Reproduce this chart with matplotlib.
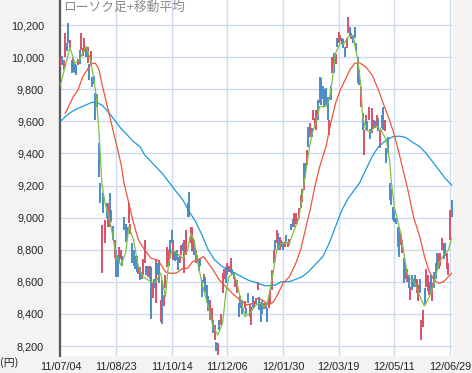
import numpy as np
import matplotlib
matplotlib.use("Agg")
import matplotlib.pyplot as plt
from matplotlib.ticker import FuncFormatter

# daily candles (trading day index 0..246), body only
opens = [9940, 10010, 9920, 10000, 10090, 10212, 10057, 9982, 9907, 9960,
         9950, 9950, 10045, 10045, 10010, 10030, 10060, 9963, 9960, 9960,
         9878, 9880, 9776, 9770, 9463, 9214, 8655, 9152, 8840, 9090,
         8943, 9152, 8970, 8950, 8750, 8798, 8770, 8720, 8740, 8760,
         9006, 8960, 8880, 8965, 8900, 8840, 8800, 8760, 8760, 8650,
         8690, 8620, 8640, 8715, 8700, 8630, 8620, 8690, 8500, 8620,
         8468, 8720, 8736, 8350, 8610, 8450, 8560, 8693, 8700, 8861,
         8923, 8736, 8790, 8800, 8757, 8720, 8770, 8840, 8653, 8770,
         9090, 9160, 8840, 8790, 8861, 8720, 8770, 8736, 8740, 8611,
         8590, 8630, 8580, 8510, 8362, 8362, 8362, 8240, 8225, 8144,
         8360, 8330, 8530, 8620, 8690, 8640, 8660, 8653, 8680, 8660,
         8570, 8530, 8466, 8510, 8490, 8420, 8440, 8440, 8530, 8380,
         8330, 8510, 8450, 8500, 8550, 8507, 8466, 8480, 8430, 8470,
         8435, 8440, 8470, 8550, 8715, 8860, 8840, 8902, 8800, 8820,
         8850, 8820, 8890, 8820, 8830, 8960, 8990, 8944, 8960, 8960,
         9000, 9060, 9100, 9172, 9340, 9330, 9563, 9505, 9560, 9608,
         9570, 9546, 9733, 9878, 9870, 9820, 9800, 9810, 9750, 9515,
         9820, 9900, 10025, 9960, 10118, 10088, 10100, 10120, 10110, 10065,
         10060, 10150, 10190, 10110, 10140, 10190, 10090, 10000, 9920, 9690,
         9650, 9390, 9580, 9600, 9608, 9550, 9525, 9610, 9600, 9570,
         9620, 9432, 9640, 9690, 9540, 9432, 9500, 9214, 9180, 9066,
         9040, 9000, 8944, 8944, 8830, 8780, 8747, 8720, 8600, 8640,
         8487, 8640, 8620, 8640, 8530, 8480, 8620, 8238, 8320, 8560,
         8570, 8540, 8520, 8640, 8480, 8660, 8720, 8778, 8680, 8700,
         8798, 8840, 8760, 8680, 8640, 8860, 9110]
closes = [10003, 9950, 9980, 10150, 10040, 10088, 10106, 9900, 9995, 9900,
          9890, 9990, 9960, 10150, 10060, 10120, 10000, 10065, 9858, 10040,
          9816, 9830, 9608, 9690, 9253, 9091, 8954, 9027, 8985, 9000,
          9091, 8943, 9050, 8860, 8861, 8630, 8630, 8820, 8800, 8700,
          8923, 8850, 8940, 9090, 8960, 8715, 8700, 8680, 8660, 8700,
          8612, 8660, 8740, 8860, 8640, 8700, 8700, 8370, 8590, 8560,
          8736, 8640, 8590, 8490, 8340, 8520, 8640, 8818, 8800, 8750,
          8840, 8861, 8730, 8736, 8674, 8760, 8830, 8790, 8860, 8923,
          9006, 9006, 8943, 8943, 8770, 8800, 8740, 8670, 8700, 8507,
          8650, 8530, 8470, 8420, 8487, 8440, 8280, 8330, 8170, 8218,
          8300, 8400, 8653, 8680, 8590, 8720, 8700, 8750, 8640, 8620,
          8620, 8610, 8383, 8440, 8400, 8440, 8480, 8400, 8470, 8460,
          8445, 8440, 8480, 8460, 8600, 8425, 8350, 8400, 8470, 8430,
          8350, 8500, 8549, 8674, 8798, 8800, 8923, 8798, 8880, 8860,
          8800, 8850, 8850, 8850, 8870, 8920, 8940, 9027, 9027, 9000,
          9060, 9140, 9180, 9339, 9250, 9420, 9442, 9588, 9500, 9670,
          9620, 9670, 9608, 9712, 9700, 9740, 9690, 9700, 9608, 9608,
          9730, 10000, 9900, 10020, 10065, 10157, 10140, 10080, 10060, 10000,
          10120, 10250, 10130, 10150, 10085, 10118, 10040, 9838, 9826, 9815,
          9546, 9546, 9640, 9546, 9690, 9490, 9683, 9560, 9560, 9640,
          9540, 9546, 9560, 9546, 9610, 9339, 9400, 9110, 9080, 8985,
          8970, 8960, 8820, 8757, 8900, 8860, 8591, 8620, 8680, 8560,
          8570, 8550, 8570, 8570, 8620, 8580, 8530, 8362, 8425, 8460,
          8680, 8640, 8600, 8530, 8590, 8560, 8620, 8674, 8780, 8780,
          8871, 8740, 8840, 8780, 8720, 9047, 9006]

# moving averages (day index, price)
ma5_x = [0, 6, 9, 12, 16, 19, 22, 23, 24, 25, 26, 28, 31, 33, 35, 38, 41, 43, 46, 49,
         52, 57, 60, 63, 66, 68, 70, 72, 77, 80, 82, 84, 86, 89, 93, 96, 99, 102, 104, 106,
         109, 111, 113, 116, 119, 123, 126, 128, 130, 131, 134, 136, 139, 144, 147, 150, 153, 156, 158, 161,
         163, 167, 169, 171, 173, 176, 178, 181, 184, 187, 189, 190, 192, 195, 198, 201, 205, 207, 208, 210,
         212, 214, 216, 218, 220, 223, 227, 229, 232, 235, 238, 241, 244, 246]
ma5 = [9826, 10061, 9961, 9982, 10069, 9982, 9795, 9691, 9567, 9402, 9216, 9091, 8985, 8881, 8757, 8705, 8780, 8943, 8860, 8690,
       8632, 8600, 8600, 8655, 8507, 8717, 8798, 8788, 8747, 8798, 8902, 8861, 8736, 8591, 8445, 8320, 8269, 8344, 8530, 8632,
       8653, 8591, 8507, 8383, 8404, 8456, 8470, 8440, 8470, 8507, 8670, 8798, 8840, 8840, 8923, 9000, 9200, 9400, 9515, 9600,
       9691, 9691, 9733, 9860, 10024, 10086, 10080, 10127, 10135, 9982, 9816, 9629, 9546, 9535, 9567, 9556, 9484, 9359, 9234, 9068,
       8985, 8902, 8778, 8653, 8622, 8591, 8487, 8450, 8507, 8591, 8715, 8767, 8798, 8871]

ma25_x = [3, 5, 8, 11, 14, 18, 20, 22, 24, 26, 29, 32, 35, 38, 40, 43, 46, 49, 53, 57,
          61, 63, 66, 69, 73, 77, 80, 83, 86, 90, 93, 96, 100, 104, 108, 113, 117, 121, 124, 127,
          131, 134, 137, 140, 144, 148, 151, 154, 157, 160, 163, 167, 170, 173, 176, 179, 182, 185, 188, 192,
          196, 200, 203, 207, 210, 213, 216, 219, 222, 226, 229, 232, 235, 238, 241, 244, 246]
ma25 = [9650, 9691, 9753, 9795, 9878, 9940, 9961, 9961, 9930, 9837, 9712, 9588, 9463, 9339, 9214, 9089, 8965, 8861, 8798, 8747,
        8736, 8710, 8663, 8653, 8655, 8684, 8684, 8725, 8736, 8757, 8716, 8674, 8611, 8570, 8529, 8487, 8456, 8466, 8497, 8487,
        8456, 8476, 8529, 8591, 8632, 8715, 8798, 8923, 9047, 9193, 9317, 9442, 9588, 9712, 9795, 9857, 9920, 9961, 9965, 9940,
        9889, 9795, 9712, 9608, 9515, 9401, 9276, 9152, 9006, 8881, 8757, 8663, 8611, 8591, 8601, 8632, 8653]

ma75_x = [0, 3, 7, 11, 16, 20, 23, 26, 30, 34, 38, 42, 46, 50, 53, 57, 60, 64, 68, 72,
          77, 81, 85, 89, 93, 97, 102, 106, 110, 114, 118, 123, 129, 135, 139, 144, 148, 152, 156, 160,
          165, 169, 173, 177, 181, 185, 188, 192, 196, 200, 205, 209, 213, 217, 221, 226, 230, 234, 238, 242, 246]
ma75 = [9600, 9629, 9660, 9681, 9702, 9719, 9716, 9702, 9660, 9608, 9556, 9515, 9473, 9442, 9390, 9349, 9317, 9276, 9224, 9172,
        9110, 9037, 8975, 8892, 8798, 8736, 8694, 8674, 8653, 8632, 8611, 8595, 8574, 8580, 8601, 8601, 8616, 8632, 8663, 8705,
        8757, 8840, 8944, 9047, 9120, 9175, 9214, 9297, 9380, 9442, 9484, 9504, 9508, 9500, 9473, 9442, 9401, 9349, 9297, 9245, 9203]

tick_pos = [0, 35, 70, 105, 140, 175, 210, 245]
tick_labels = ["11/07/04", "11/08/23", "11/10/14", "11/12/06",
               "12/01/30", "12/03/19", "12/05/11", "12/06/29"]
yticks = list(range(8200, 10201, 200))

plt.rcParams['font.family'] = ['Liberation Sans', 'Noto Sans CJK JP']

fig = plt.figure(figsize=(4.72, 3.73), dpi=100, facecolor='#f4f3f1')
ax = fig.add_axes([60/472, 17/373, 393/472, 356/373])
ax.set_facecolor('white')

o = np.array(opens)
c = np.array(closes)
x = np.arange(len(o))
up = c >= o
ax.vlines(x[up], o[up], c[up], colors='#dc5068', linewidth=1.4, zorder=3)
ax.vlines(x[~up], c[~up], o[~up], colors='#4a8cc6', linewidth=1.4, zorder=3)

ax.plot(ma75_x, ma75, color='#1c9ad8', lw=0.9, zorder=4)
ax.plot(ma25_x, ma25, color='#f0553a', lw=0.9, zorder=4)
ax.plot(ma5_x, ma5, color='#7cc043', lw=0.9, zorder=5)

ax.set_xlim(-0.3, 246.9)
ax.set_ylim(8138, 10356)
ax.set_xticks(tick_pos)
ax.set_xticklabels(tick_labels)
ax.set_yticks(yticks)
ax.yaxis.set_major_formatter(FuncFormatter(lambda v, p: f"{int(v):,}"))
ax.grid(True, color='#d0daee', lw=1.0, zorder=0)
ax.set_axisbelow(True)
ax.tick_params(axis='both', length=0, labelsize=7.8, colors='#222222')
ax.tick_params(axis='y', pad=11.5)
ax.tick_params(axis='x', pad=4)
for s in ['top', 'right', 'bottom']:
    ax.spines[s].set_visible(False)
ax.spines['left'].set_color('#5a5a5a')
ax.spines['left'].set_linewidth(1.6)

ax.text(0.008, 0.997, "ローソク足+移動平均", transform=ax.transAxes,
        ha='left', va='top', fontsize=9.2, color='#8a8a8a',
        family=['Noto Sans CJK JP'], zorder=6)
fig.text(0.0, 10/373, "(円)", ha='left', va='center', fontsize=7.8,
         color='#222222', family=['Noto Sans CJK JP', 'DejaVu Sans'])

fig.savefig("out.png", dpi=100, facecolor=fig.get_facecolor())
